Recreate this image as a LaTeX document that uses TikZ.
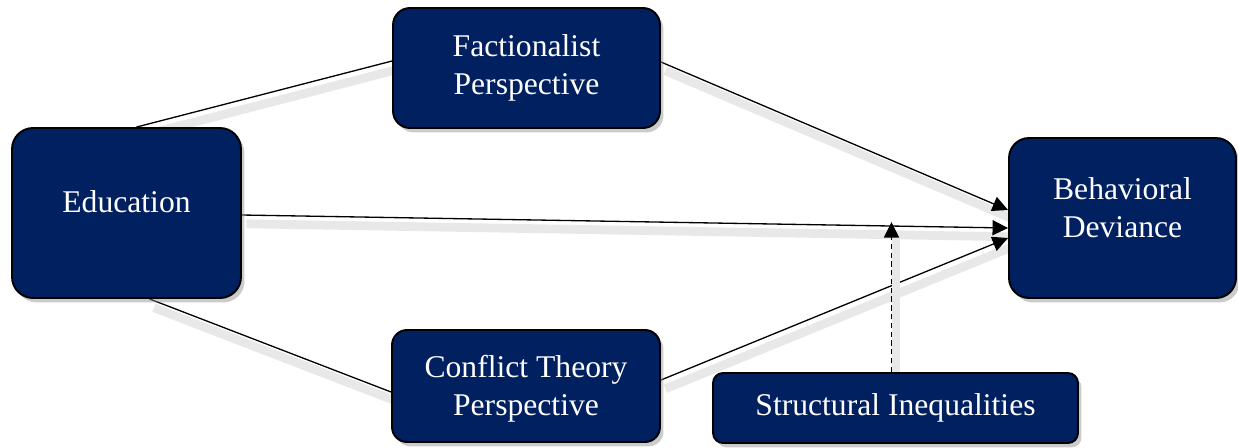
\documentclass[tikz,border=0pt]{standalone}
\usepackage{fontspec}
\setmainfont{Liberation Serif}
\usetikzlibrary{positioning,calc,shadows,arrows.meta,backgrounds}
\definecolor{navy}{RGB}{0,32,96}

\begin{document}
\begin{tikzpicture}[x=0.02cm, y=-0.02cm, >={Triangle[length=0.31cm, width=0.3cm]}]
	\tikzset{
		box/.style = {rectangle, draw=black, line width=1.1pt, rounded corners=0.4cm,
			fill=navy, text=white, align=center, inner sep=0pt,
			font=\fontsize{18}{21.6}\selectfont,
			drop shadow={shadow xshift=2pt, shadow yshift=-2.5pt, fill=black!45, opacity=0.45}},
		link/.style = {line width=0.75pt,
			preaction={-, draw=black!9, line width=5pt, transform canvas={xshift=2.5pt, yshift=-5pt}}}
	}
	\useasboundingbox (0,0) rectangle (1238,447);
	% boxes
	\node[box, minimum width=4.58cm, minimum height=3.4cm, rounded corners=0.42cm, text depth=12.5pt] (edu) at (126.5,213) {Education};
	\node[box, minimum width=5.34cm, minimum height=2.4cm, rounded corners=0.34cm] (fac) at (526.5,68) {Factionalist\\Perspective};
	\node[box, minimum width=5.36cm, minimum height=2.24cm, rounded corners=0.3cm, text height=37.5pt] (con) at (526,386) {Conflict Theory\\Perspective};
	\node[box, minimum width=4.54cm, minimum height=3.2cm, text depth=11.4pt] (beh) at (1122.5,218) {Behavioral\\Deviance};
	\node[box, minimum width=7.3cm, minimum height=1.4cm, rounded corners=0.2cm] (si) at (895.5,408) {Structural Inequalities};
	% links
	\begin{scope}[on background layer]
		\draw[link] ($(edu.north)+(10,0)$) -- ($(fac.west)+(0,-7)$);
		\draw[link] ($(edu.south)+(23,0)$) -- ($(con.west)+(0,6)$);
		\draw[link, ->] ($(fac.east)+(0,-6)$) -- ($(beh.west)+(0,-8)$);
		\draw[link, ->] ($(edu.east)+(0,2)$) -- ($(beh.west)+(0,10)$);
		\draw[link, ->] ($(con.east)+(0,-6)$) -- ($(beh.west)+(0,20)$);
		\coordinate (meet) at ($(si.north)+(-4,-150)$);
		\draw[link, line width=0.9pt, dash pattern=on 3pt off 2pt, ->] ($(si.north)+(-4,0)$) -- (meet);
	\end{scope}
\end{tikzpicture}
\end{document}
